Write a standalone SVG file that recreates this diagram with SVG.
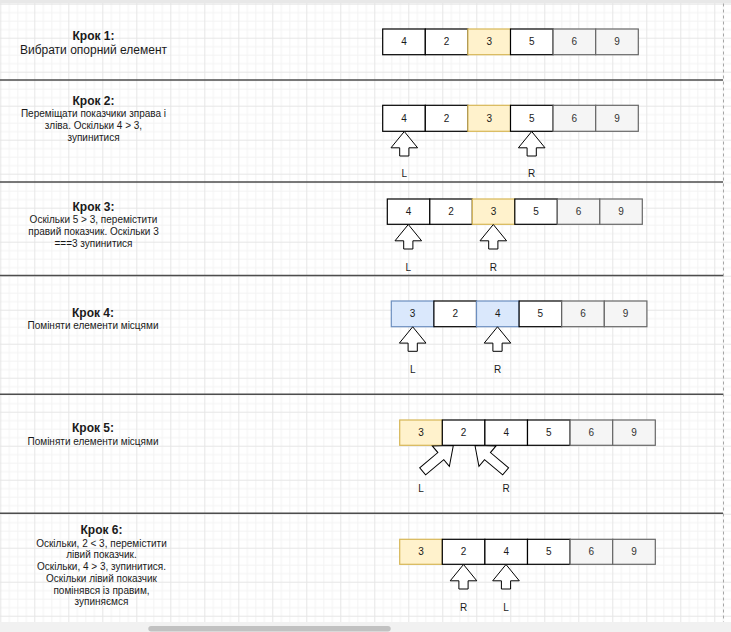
<svg xmlns="http://www.w3.org/2000/svg" width="731" height="632" viewBox="0 0 731 632">
<defs>
<pattern id="grid" patternUnits="userSpaceOnUse" x="0.3" y="3.7" width="34" height="34">
<rect width="34" height="34" fill="#fff"/>
<g fill="#f3f3f3">
<rect x="8.5" y="0" width="1" height="34"/><rect x="17" y="0" width="1" height="34"/><rect x="25.5" y="0" width="1" height="34"/>
<rect x="0" y="8.5" width="34" height="1"/><rect x="0" y="17" width="34" height="1"/><rect x="0" y="25.5" width="34" height="1"/>
</g>
<g fill="#e6e6e6"><rect x="0" y="0" width="1" height="34"/><rect x="0" y="0" width="34" height="1"/></g>
</pattern>
<path id="up" d="M0,0 L13.3,16.3 L4.6,16.3 L4.6,24.5 L-4.6,24.5 L-4.6,16.3 L-13.3,16.3 Z"/>
<path id="upLong" d="M0,0 L13.3,16.3 L4.6,16.3 L4.6,40 L-4.6,40 L-4.6,16.3 L-13.3,16.3 Z"/>
</defs>
<style>
text{font-family:"Liberation Sans",Arial,sans-serif;fill:#1a1a1a}
.t{font-size:12px;font-weight:bold;text-anchor:middle}
.d{font-size:10px;text-anchor:middle}
.d12{font-size:12px;text-anchor:middle}
.num{font-size:10px;text-anchor:middle}
.gnum{font-size:10px;text-anchor:middle;fill:#333}
.cw{fill:#fff;stroke:#000;stroke-width:1.2}
.cy{fill:#fff2cc;stroke:#d6b656;stroke-width:1.2}
.cb{fill:#dae8fc;stroke:#6c8ebf;stroke-width:1.2}
.cg{fill:#f5f5f5;stroke:#666;stroke-width:1.2}
.ptr{fill:#fff;stroke:#000;stroke-width:1}
.sep{stroke:#4d4d4d;stroke-width:1.6}
.lbl{font-size:10px;text-anchor:middle}
</style>
<rect x="0" y="0" width="731" height="632" fill="url(#grid)"/>
<rect x="0" y="0" width="731" height="3.5" fill="#e8e8e8"/>
<line x1="723.5" y1="3.5" x2="723.5" y2="622" stroke="#a6a6a6" stroke-width="1" stroke-dasharray="3,3"/>

<g id="separators">
<line class="sep" x1="0" y1="80" x2="723" y2="80"/>
<line class="sep" x1="0" y1="182" x2="723" y2="182"/>
<line class="sep" x1="0" y1="275.5" x2="723" y2="275.5"/>
<line class="sep" x1="0" y1="394.3" x2="723" y2="394.3"/>
<line class="sep" x1="0" y1="513.3" x2="723" y2="513.3"/>
</g>

<g id="step1-text">
<text class="t" x="93.5" y="40">Крок 1:</text>
<text class="d12" x="93.5" y="54.3">Вибрати опорний елемент</text>
</g>
<g id="step2-text">
<text class="t" x="93.5" y="105.3">Крок 2:</text>
<text class="d" x="93.5" y="116.9">Переміщати показчики зправа і</text>
<text class="d" x="93.5" y="128.8">зліва. Оскільки 4 &gt; 3,</text>
<text class="d" x="93.5" y="140.6">зупинитися</text>
</g>
<g id="step3-text">
<text class="t" x="93.5" y="211">Крок 3:</text>
<text class="d" x="93.5" y="222.9">Оскільки 5 &gt; 3, перемістити</text>
<text class="d" x="93.5" y="235.3">правий показчик. Оскільки 3</text>
<text class="d" x="93.5" y="246.9">===3 зупинитися</text>
</g>
<g id="step4-text">
<text class="t" x="93" y="316.6">Крок 4:</text>
<text class="d" x="93" y="329.3">Поміняти елементи місцями</text>
</g>
<g id="step5-text">
<text class="t" x="93" y="432">Крок 5:</text>
<text class="d" x="93" y="444.6">Поміняти елементи місцями</text>
</g>
<g id="step6-text">
<text class="t" x="101.5" y="533.6">Крок 6:</text>
<text class="d" x="101.5" y="546.9">Оскільки, 2 &lt; 3, перемістити</text>
<text class="d" x="101.5" y="558.2">лівий показчик.</text>
<text class="d" x="101.5" y="569.9">Оскільки, 4 &gt; 3, зупинитися.</text>
<text class="d" x="101.5" y="581.9">Оскільки лівий показчик</text>
<text class="d" x="101.5" y="593.6">помінявся із правим,</text>
<text class="d" x="101.5" y="604.6">зупиняємся</text>
</g>

<g id="array1">
<rect class="cw" x="382.7" y="29" width="42.6" height="25.7"/>
<rect class="cw" x="425.3" y="29" width="42.6" height="25.7"/>
<rect class="cy" x="467.9" y="29" width="42.6" height="25.7"/>
<rect class="cw" x="510.5" y="29" width="42.6" height="25.7"/>
<rect class="cg" x="553.1" y="29" width="42.6" height="25.7"/>
<rect class="cg" x="595.7" y="29" width="42.6" height="25.7"/>
<text class="num" x="404" y="45.4">4</text><text class="num" x="446.6" y="45.4">2</text><text class="num" x="489.2" y="45.4">3</text><text class="num" x="531.8" y="45.4">5</text><text class="gnum" x="574.4" y="45.4">6</text><text class="gnum" x="617" y="45.4">9</text>
</g>

<g id="array2">
<rect class="cw" x="382.7" y="105.3" width="42.6" height="26"/>
<rect class="cw" x="425.3" y="105.3" width="42.6" height="26"/>
<rect class="cy" x="467.9" y="105.3" width="42.6" height="26"/>
<rect class="cw" x="510.5" y="105.3" width="42.6" height="26"/>
<rect class="cg" x="553.1" y="105.3" width="42.6" height="26"/>
<rect class="cg" x="595.7" y="105.3" width="42.6" height="26"/>
<text class="num" x="404" y="121.9">4</text><text class="num" x="446.6" y="121.9">2</text><text class="num" x="489.2" y="121.9">3</text><text class="num" x="531.8" y="121.9">5</text><text class="gnum" x="574.4" y="121.9">6</text><text class="gnum" x="617" y="121.9">9</text>
</g>
<g id="pointers2">
<use href="#up" class="ptr" x="404.3" y="131.5"/>
<use href="#up" class="ptr" x="531.7" y="131.5"/>
<text class="lbl" x="404.3" y="177">L</text>
<text class="lbl" x="531.7" y="177">R</text>
</g>

<g id="array3">
<rect class="cw" x="387.3" y="199" width="42.5" height="25.3"/>
<rect class="cw" x="429.8" y="199" width="42.5" height="25.3"/>
<rect class="cy" x="472.3" y="199" width="42.5" height="25.3"/>
<rect class="cw" x="514.8" y="199" width="42.5" height="25.3"/>
<rect class="cg" x="557.3" y="199" width="42.5" height="25.3"/>
<rect class="cg" x="599.8" y="199" width="42.5" height="25.3"/>
<text class="num" x="408.5" y="215.3">4</text><text class="num" x="451" y="215.3">2</text><text class="num" x="493.5" y="215.3">3</text><text class="num" x="536" y="215.3">5</text><text class="gnum" x="578.5" y="215.3">6</text><text class="gnum" x="621" y="215.3">9</text>
</g>
<g id="pointers3">
<use href="#up" class="ptr" x="408.3" y="224.5"/>
<use href="#up" class="ptr" x="493.3" y="224.5"/>
<text class="lbl" x="408.3" y="271">L</text>
<text class="lbl" x="493.3" y="271">R</text>
</g>

<g id="array4">
<rect class="cb" x="391.3" y="301" width="42.6" height="25.7"/>
<rect class="cw" x="433.9" y="301" width="42.6" height="25.7"/>
<rect class="cb" x="476.5" y="301" width="42.6" height="25.7"/>
<rect class="cw" x="519.1" y="301" width="42.6" height="25.7"/>
<rect class="cg" x="561.7" y="301" width="42.6" height="25.7"/>
<rect class="cg" x="604.3" y="301" width="42.6" height="25.7"/>
<text class="num" x="412.6" y="317.4">3</text><text class="num" x="455.2" y="317.4">2</text><text class="num" x="497.8" y="317.4">4</text><text class="num" x="540.4" y="317.4">5</text><text class="gnum" x="583" y="317.4">6</text><text class="gnum" x="625.6" y="317.4">9</text>
</g>
<g id="pointers4">
<use href="#up" class="ptr" x="412.7" y="326.8"/>
<use href="#up" class="ptr" x="497.5" y="326.8"/>
<text class="lbl" x="412.7" y="373">L</text>
<text class="lbl" x="497.5" y="373">R</text>
</g>

<g id="array5">
<rect class="cy" x="399.7" y="420" width="42.6" height="25.3"/>
<rect class="cw" x="442.3" y="420" width="42.6" height="25.3"/>
<rect class="cw" x="484.9" y="420" width="42.6" height="25.3"/>
<rect class="cw" x="527.5" y="420" width="42.6" height="25.3"/>
<rect class="cg" x="570.1" y="420" width="42.6" height="25.3"/>
<rect class="cg" x="612.7" y="420" width="42.6" height="25.3"/>
<text class="num" x="421" y="436.2">3</text><text class="num" x="463.6" y="436.2">2</text><text class="num" x="506.2" y="436.2">4</text><text class="num" x="548.8" y="436.2">5</text><text class="gnum" x="591.4" y="436.2">6</text><text class="gnum" x="634" y="436.2">9</text>
</g>
<g id="pointers5">
<use href="#upLong" class="ptr" transform="translate(453.3,445.6) rotate(50)"/>
<use href="#upLong" class="ptr" transform="translate(475,445.6) rotate(-50)"/>
<text class="lbl" x="421" y="492">L</text>
<text class="lbl" x="506" y="492">R</text>
</g>

<g id="array6">
<rect class="cy" x="399.7" y="539.3" width="42.6" height="25"/>
<rect class="cw" x="442.3" y="539.3" width="42.6" height="25"/>
<rect class="cw" x="484.9" y="539.3" width="42.6" height="25"/>
<rect class="cw" x="527.5" y="539.3" width="42.6" height="25"/>
<rect class="cg" x="570.1" y="539.3" width="42.6" height="25"/>
<rect class="cg" x="612.7" y="539.3" width="42.6" height="25"/>
<text class="num" x="421" y="555.4">3</text><text class="num" x="463.6" y="555.4">2</text><text class="num" x="506.2" y="555.4">4</text><text class="num" x="548.8" y="555.4">5</text><text class="gnum" x="591.4" y="555.4">6</text><text class="gnum" x="634" y="555.4">9</text>
</g>
<g id="pointers6">
<use href="#up" class="ptr" x="463.5" y="564.5"/>
<use href="#up" class="ptr" x="506" y="564.5"/>
<text class="lbl" x="463.5" y="610.6">R</text>
<text class="lbl" x="506" y="610.6">L</text>
</g>

<g id="connectors"/>

<rect x="0" y="622" width="731" height="10" fill="#f1f1f1"/>
<rect x="148.3" y="626" width="242.4" height="5.5" rx="2.75" fill="#c1c1c1"/>
</svg>
